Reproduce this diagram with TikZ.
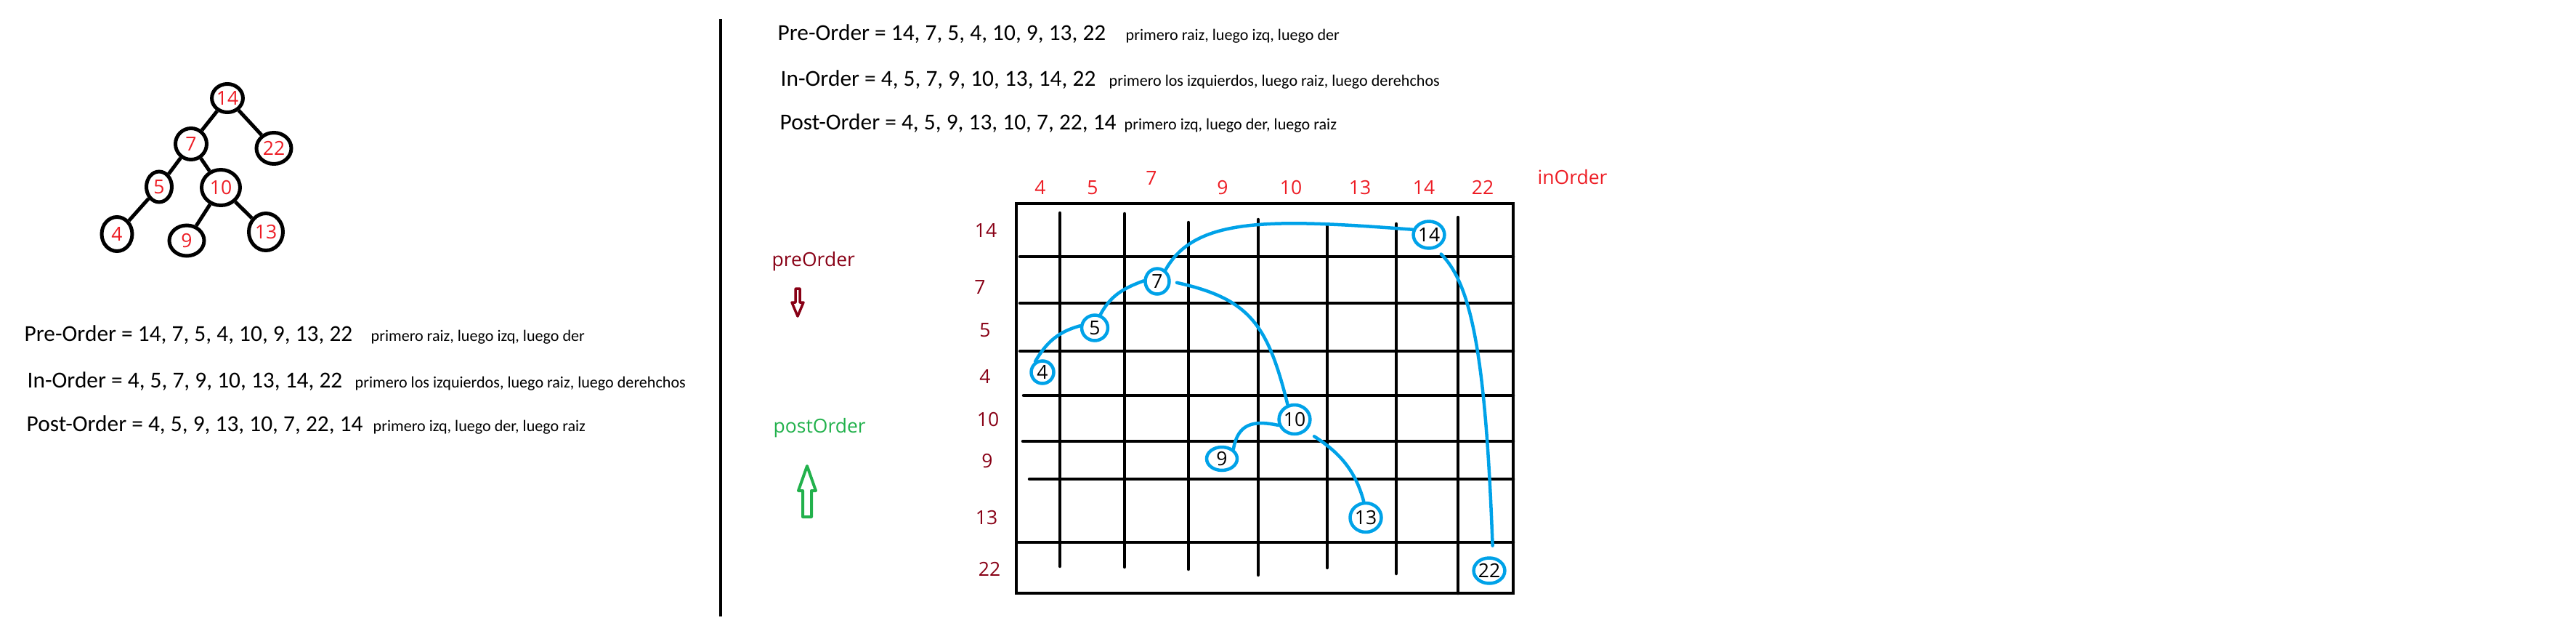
\documentclass[tikz,border=0pt]{standalone}
\usepackage{fontspec}
\setmainfont{Carlito}
\newfontfamily\paintfont{Open Sans}
\usetikzlibrary{shapes.geometric}

\definecolor{paintred}{RGB}{237,28,36}
\definecolor{paintdarkred}{RGB}{136,0,21}
\definecolor{paintgreen}{RGB}{34,177,76}
\definecolor{paintblue}{RGB}{0,162,232}

\tikzset{
  typed/.style={anchor=base west, inner sep=0pt, font=\fontsize{8.93}{10}\selectfont},
  typednote/.style={anchor=base west, inner sep=0pt, font=\fontsize{6.29}{7}\selectfont},
  painted/.style={inner sep=0pt, font=\paintfont\fontsize{7.54}{9}\selectfont},
  treenode/.style={ellipse, draw, line width=0.05cm, painted, text=paintred},
  treeedge/.style={line width=0.05cm},
  gridnode/.style={ellipse, draw=paintblue, line width=0.045cm, painted},
  gridline/.style={line width=0.045cm, line cap=round},
  walk/.style={draw=paintblue, line width=0.045cm, line cap=round},
  collabel/.style={painted, anchor=base, text=paintred},
  rowlabel/.style={painted, anchor=base, text=paintdarkred}
}

\begin{document}
\begin{tikzpicture}
\useasboundingbox (0,0) rectangle (35.46,8.56);

% Tree
\node[treenode, minimum width=0.40cm, minimum height=0.39cm] (t14) at (3.13,7.21) {14};
\node[treenode, minimum width=0.43cm, minimum height=0.43cm] (t7) at (2.63,6.58) {7};
\node[treenode, minimum width=0.48cm, minimum height=0.43cm] (t22) at (3.77,6.52) {22};
\node[treenode, minimum width=0.35cm, minimum height=0.42cm] (t5) at (2.19,5.99) {5};
\node[treenode, minimum width=0.53cm, minimum height=0.49cm] (t10) at (3.04,5.98) {10};
\node[treenode, minimum width=0.42cm, minimum height=0.47cm] (t4) at (1.61,5.34) {4};
\node[treenode, minimum width=0.48cm, minimum height=0.42cm] (t9) at (2.57,5.25) {9};
\node[treenode, minimum width=0.47cm, minimum height=0.51cm] (t13) at (3.66,5.37) {13};
\draw[treeedge] (t14) -- (t7);
\draw[treeedge] (t14) -- (t22);
\draw[treeedge] (t7) -- (t5);
\draw[treeedge] (t7) -- (t10);
\draw[treeedge] (t5) -- (t4);
\draw[treeedge] (t10) -- (t9);
\draw[treeedge] (t10) -- (t13);

% Traversals under the tree
\node[typed] (preLeft) at (0.33,3.87) {Pre-Order = 14, 7, 5, 4, 10, 9, 13, 22};
\node[typednote] (preLeftNote) at (5.10,3.87) {primero raiz, luego izq, luego der};
\node[typed] (inLeft) at (0.37,3.23) {In-Order = 4, 5, 7, 9, 10, 13, 14, 22};
\node[typednote] (inLeftNote) at (4.88,3.23) {primero los izquierdos, luego raiz, luego derehchos};
\node[typed] (postLeft) at (0.36,2.63) {Post-Order = 4, 5, 9, 13, 10, 7, 22, 14};
\node[typednote] (postLeftNote) at (5.13,2.63) {primero izq, luego der, luego raiz};

% Divider
\draw[line width=0.04cm] (9.92,8.30) -- (9.92,0.08);

% Traversals at the top
\node[typed] (preTop) at (10.70,8.01) {Pre-Order = 14, 7, 5, 4, 10, 9, 13, 22};
\node[typednote] (preTopNote) at (15.49,8.01) {primero raiz, luego izq, luego der};
\node[typed] (inTop) at (10.74,7.38) {In-Order = 4, 5, 7, 9, 10, 13, 14, 22};
\node[typednote] (inTopNote) at (15.26,7.38) {primero los izquierdos, luego raiz, luego derehchos};
\node[typed] (postTop) at (10.73,6.78) {Post-Order = 4, 5, 9, 13, 10, 7, 22, 14};
\node[typednote] (postTopNote) at (15.47,6.78) {primero izq, luego der, luego raiz};

% Reading directions
\node[painted, anchor=base west, text=paintdarkred] (preLabel) at (10.62,4.90) {preOrder};
\draw[paintdarkred, line width=0.035cm, line join=round] (10.95,4.59) -- (11.01,4.59) -- (11.01,4.40) -- (11.06,4.40) -- (10.98,4.21) -- (10.90,4.40) -- (10.95,4.40) -- cycle;
\node[painted, anchor=base west, text=paintgreen] (postLabel) at (10.64,2.61) {postOrder};
\draw[paintgreen, line width=0.04cm, line join=round] (11.05,1.45) -- (11.17,1.45) -- (11.17,1.81) -- (11.23,1.81) -- (11.11,2.15) -- (10.99,1.81) -- (11.05,1.81) -- cycle;
\node[painted, anchor=base west, text=paintred] (inLabel) at (21.16,6.03) {inOrder};

% Column labels (in-order)
\node[collabel] (c4) at (14.32,5.89) {4};
\node[collabel] (c5) at (15.04,5.89) {5};
\node[collabel] (c7) at (15.85,6.02) {7};
\node[collabel] (c9) at (16.83,5.89) {9};
\node[collabel] (c10) at (17.77,5.89) {10};
\node[collabel] (c13) at (18.72,5.89) {13};
\node[collabel] (c14) at (19.60,5.89) {14};
\node[collabel] (c22) at (20.41,5.89) {22};

% Row labels (pre-order)
\node[rowlabel] (r14) at (13.57,5.295) {14};
\node[rowlabel] (r7) at (13.49,4.515) {7};
\node[rowlabel] (r5) at (13.56,3.925) {5};
\node[rowlabel] (r4) at (13.56,3.285) {4};
\node[rowlabel] (r10) at (13.60,2.695) {10};
\node[rowlabel] (r9) at (13.59,2.125) {9};
\node[rowlabel] (r13) at (13.58,1.345) {13};
\node[rowlabel] (r22) at (13.62,0.635) {22};

% Grid
\draw[gridline] (13.99,5.76) rectangle (20.83,0.40);
\draw[gridline] (14.59,5.63) -- (14.59,0.77);
\draw[gridline] (15.48,5.62) -- (15.48,0.76);
\draw[gridline] (16.36,5.50) -- (16.36,0.73);
\draw[gridline] (17.32,5.54) -- (17.32,0.65);
\draw[gridline] (18.27,5.46) -- (18.27,0.75);
\draw[gridline] (19.22,5.48) -- (19.22,0.67);
\draw[gridline] (20.07,5.57) -- (20.07,0.40);
\draw[gridline] (14.04,5.03) -- (20.83,5.03);
\draw[gridline] (14.04,4.39) -- (20.83,4.39);
\draw[gridline] (14.04,3.73) -- (20.83,3.73);
\draw[gridline] (14.09,3.12) -- (20.83,3.12);
\draw[gridline] (14.08,2.49) -- (20.83,2.49);
\draw[gridline] (14.17,1.97) -- (20.83,1.97);
\draw[gridline] (14.02,1.10) -- (20.83,1.10);

% Nodes placed on the grid
\node[gridnode, minimum width=0.31cm, minimum height=0.31cm] (g4) at (14.35,3.44) {4};
\node[gridnode, minimum width=0.36cm, minimum height=0.35cm] (g5) at (15.07,4.05) {5};
\node[gridnode, minimum width=0.33cm, minimum height=0.35cm] (g7) at (15.93,4.69) {7};
\node[gridnode, minimum width=0.37cm, minimum height=0.37cm] (g14) at (19.67,5.33) {14};
\node[gridnode, minimum width=0.37cm, minimum height=0.40cm] (g10) at (17.82,2.79) {10};
\node[gridnode, minimum width=0.42cm, minimum height=0.32cm] (g9) at (16.82,2.25) {9};
\node[gridnode, minimum width=0.43cm, minimum height=0.40cm] (g13) at (18.80,1.44) {13};
\node[gridnode, minimum width=0.35cm, minimum height=0.35cm] (g22) at (20.50,0.71) {22};

% Rebuilt tree links
\draw[walk] (g4.124) to[out=60,in=195] (g5.172);
\draw[walk] (g5.67) to[out=62,in=200] (g7.178);
\draw[walk] (g7.54) .. controls (16.45,5.58) and (17.5,5.55) .. (g14.162);
\draw[walk, shorten <=2.4pt] (g7.0) .. controls (17.2,4.45) and (17.45,4.1) .. (g10.115);
\draw[walk] (g9.40) to[out=80,in=168,looseness=1.3] (g10.200);
\draw[walk, shorten <=3.7pt] (g10.-45) to[out=-33,in=105] (g13.97);
\draw[walk, shorten <=3pt, shorten >=4.3pt] (g14.-64) .. controls (20.25,4.65) and (20.45,3.7) .. (g22.75);
\end{tikzpicture}
\end{document}
